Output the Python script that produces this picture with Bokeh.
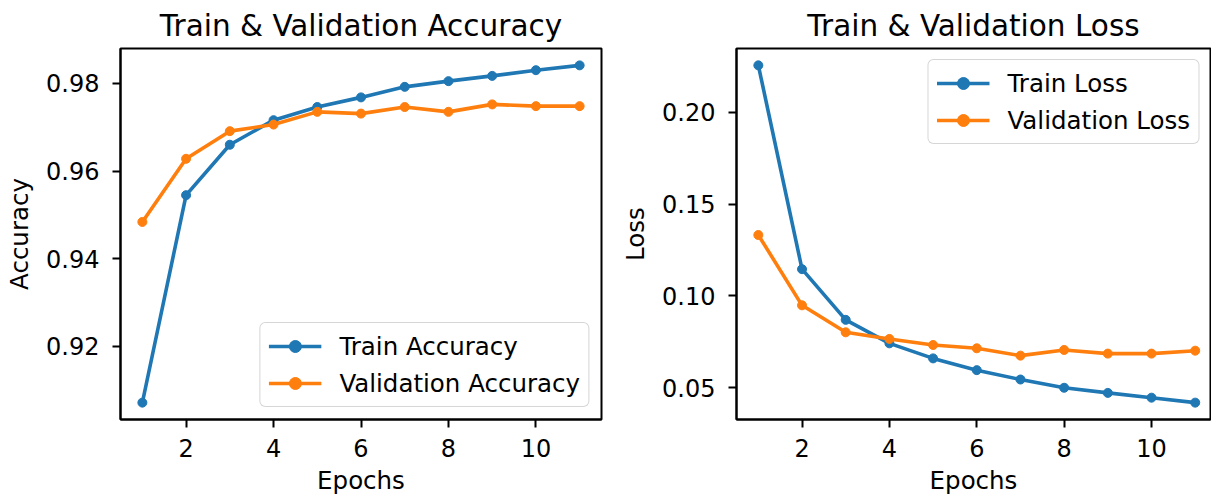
from bokeh.plotting import figure
from bokeh.layouts import row
from bokeh.models import Range1d, FixedTicker, PrintfTickFormatter
from bokeh.embed import file_html
from bokeh.resources import INLINE

epochs = [1, 2, 3, 4, 5, 6, 7, 8, 9, 10, 11]
train_acc = [0.9072, 0.9545, 0.9660, 0.9716, 0.9746, 0.9768, 0.9792, 0.9805, 0.9817, 0.9830, 0.9841]
val_acc = [0.9484, 0.9628, 0.9691, 0.9706, 0.9735, 0.9731, 0.9746, 0.9735, 0.9752, 0.9748, 0.9748]
train_loss = [0.2256, 0.1146, 0.0870, 0.0742, 0.0660, 0.0596, 0.0545, 0.0500, 0.0472, 0.0446, 0.0419]
val_loss = [0.1332, 0.0949, 0.0802, 0.0766, 0.0733, 0.0715, 0.0675, 0.0706, 0.0686, 0.0686, 0.0702]
x_ticks = [2, 4, 6, 8, 10]
acc_ticks = [0.92, 0.94, 0.96, 0.98]
loss_ticks = [0.05, 0.10, 0.15, 0.20]

BLUE = "#1f77b4"
ORANGE = "#ff7f0e"
FONT = "DejaVu Sans"


def padded(a, b):
    lo, hi = min(a + b), max(a + b)
    d = (hi - lo) * 0.05
    return Range1d(lo - d, hi + d)


def make(title, ylabel, s1, s2, l1, l2, yticks, fmt, x_end, fw, border_left, border_right, legend_loc, legend_margin):
    p = figure(frame_width=fw, frame_height=371, output_backend="svg", toolbar_location=None,
               x_range=Range1d(0.5, x_end), y_range=padded(s1, s2),
               min_border_left=border_left, min_border_right=border_right,
               min_border_top=47, min_border_bottom=70)
    p.title.text = title
    p.title.align = "center"
    p.title.text_font = FONT
    p.title.text_font_size = "29.5px"
    p.title.text_font_style = "normal"
    p.title.text_color = "black"
    p.title.standoff = 12
    p.xgrid.visible = False
    p.ygrid.visible = False
    p.outline_line_color = "black"
    p.outline_line_width = 2
    p.background_fill_color = "white"
    p.border_fill_color = "white"
    for ax in (p.xaxis[0], p.yaxis[0]):
        ax.axis_line_color = "black"
        ax.axis_line_width = 2
        ax.major_tick_line_color = "black"
        ax.major_tick_line_width = 2
        ax.major_tick_out = 8
        ax.major_tick_in = 0
        ax.minor_tick_line_color = None
        ax.major_label_text_font = FONT
        ax.major_label_text_font_size = "24px"
        ax.major_label_text_color = "black"
        ax.axis_label_text_font = FONT
        ax.axis_label_text_font_size = "24.5px"
        ax.axis_label_text_font_style = "normal"
        ax.axis_label_text_color = "black"
    p.xaxis[0].major_label_standoff = 11
    p.xaxis[0].axis_label_standoff = 6
    p.yaxis[0].major_label_standoff = 13
    p.yaxis[0].axis_label_standoff = 9
    p.xaxis[0].ticker = FixedTicker(ticks=x_ticks)
    p.yaxis[0].ticker = FixedTicker(ticks=yticks)
    p.yaxis[0].formatter = PrintfTickFormatter(format=fmt)
    p.xaxis[0].axis_label = "Epochs"
    p.yaxis[0].axis_label = ylabel

    for ys, col, lab in ((s1, BLUE, l1), (s2, ORANGE, l2)):
        p.line(epochs, ys, line_color=col, line_width=3.6, legend_label=lab)
        p.scatter(epochs, ys, size=9, fill_color=col, line_color=col, legend_label=lab)

    lg = p.legend[0]
    lg.location = legend_loc
    lg.margin = legend_margin
    lg.padding = 8
    lg.spacing = 7
    lg.glyph_width = 53
    lg.glyph_height = 30
    lg.label_standoff = 18
    lg.label_text_font = FONT
    lg.label_text_font_size = "24.5px"
    lg.label_text_color = "black"
    lg.border_line_color = "#cccccc"
    lg.border_line_width = 1.5
    lg.border_line_alpha = 0.8
    lg.background_fill_color = "white"
    lg.background_fill_alpha = 0.8
    lg.border_radius = 6
    return p


p1 = make("Train & Validation Accuracy", "Accuracy", train_acc, val_acc,
          "Train Accuracy", "Validation Accuracy", acc_ticks, "%.2f",
          11.5, 481, 120, 3, "bottom_right", 12)
p2 = make("Train & Validation Loss", "Loss", train_loss, val_loss,
          "Train Loss", "Validation Loss", loss_ticks, "%.2f",
          11.35, 474, 132, 1, "top_right", 11)

layout = row(p1, p2)
open("out.html", "w").write(file_html(layout, INLINE))
